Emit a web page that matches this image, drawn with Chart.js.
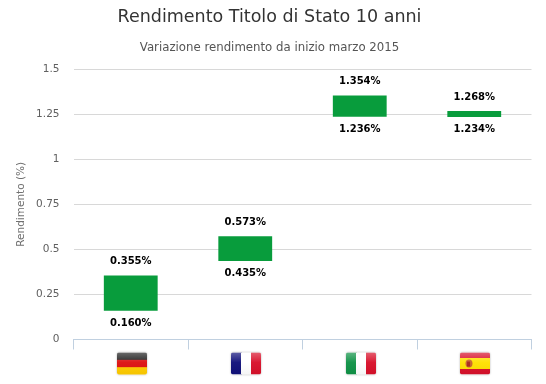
<!DOCTYPE html>
<html><head><meta charset="utf-8">
<style>html,body{margin:0;padding:0;background:#fff}canvas{display:block}</style>
<script src="https://cdn.jsdelivr.net/npm/chart.js@4"></script>
</head><body><canvas id="c" width="546" height="384"></canvas>
<script>
const categories = ["Germania", "Francia", "Italia", "Spagna"];
const lowValues = [0.160, 0.435, 1.236, 1.234];
const highValues = [0.355, 0.573, 1.354, 1.268];
const titleText = "Rendimento Titolo di Stato 10 anni";
const subtitleText = "Variazione rendimento da inizio marzo 2015";
const axisTitle = "Rendimento (%)";
const FONT = '"DejaVu Sans", sans-serif';

const flagStripes = {
  Germania: {dir: "h", colors: ["#222222", "#dd1111", "#ffcc00"]},
  Francia: {dir: "v", colors: ["#10107a", "#ffffff", "#d8102a"]},
  Italia: {dir: "v", colors: ["#0f9246", "#ffffff", "#d8102a"]},
  Spagna: {dir: "s", colors: ["#d8102a", "#ffe000", "#d8102a"]}
};

const labelsPlugin = {
  id: "rangeLabels",
  afterDatasetsDraw(chart) {
    const ctx = chart.ctx, y = chart.scales.y, x = chart.scales.x;
    ctx.save();
    ctx.font = "bold 10px " + FONT;
    ctx.fillStyle = "#000";
    ctx.textAlign = "center";
    ctx.textBaseline = "middle";
    categories.forEach((c, i) => {
      const px = x.getPixelForTick(i);
      ctx.fillText(highValues[i].toFixed(3) + "%", px, y.getPixelForValue(highValues[i]) - 14);
      ctx.fillText(lowValues[i].toFixed(3) + "%", px, y.getPixelForValue(lowValues[i]) + 12.5);
    });
    ctx.restore();
  }
};

const flagsPlugin = {
  id: "flags",
  afterDraw(chart) {
    const ctx = chart.ctx, x = chart.scales.x, y = chart.scales.y;
    const w = 30, h = 22, top = y.bottom + 13;
    categories.forEach((c, i) => {
      const left = Math.round(x.getPixelForTick(i) - w / 2 + 0.8);
      const f = flagStripes[c];
      ctx.save();
      ctx.shadowColor = "rgba(0,0,0,0.35)";
      ctx.shadowBlur = 2;
      ctx.fillStyle = "#fff";
      ctx.beginPath();
      ctx.roundRect(left, top, w, h, 2);
      ctx.fill();
      ctx.restore();
      ctx.save();
      ctx.beginPath();
      ctx.roundRect(left, top, w, h, 2);
      ctx.clip();
      if (f.dir === "h") {
        f.colors.forEach((col, k) => { ctx.fillStyle = col; ctx.fillRect(left, top + k * h / 3, w, h / 3 + 1); });
      } else if (f.dir === "v") {
        f.colors.forEach((col, k) => { ctx.fillStyle = col; ctx.fillRect(left + k * w / 3, top, w / 3 + 1, h); });
      } else {
        ctx.fillStyle = f.colors[0]; ctx.fillRect(left, top, w, h);
        ctx.fillStyle = f.colors[1]; ctx.fillRect(left, top + 5.5, w, 11);
        ctx.fillStyle = "#c9622a"; ctx.beginPath(); ctx.ellipse(left + 9, top + 11, 3.5, 4, 0, 0, 7); ctx.fill();
        ctx.fillStyle = "#a8281c"; ctx.fillRect(left + 7, top + 9, 3, 5);
      }
      const g = ctx.createLinearGradient(0, top, 0, top + h);
      g.addColorStop(0, "rgba(255,255,255,0.32)");
      g.addColorStop(0.45, "rgba(255,255,255,0.04)");
      g.addColorStop(1, "rgba(0,0,0,0.04)");
      ctx.fillStyle = g; ctx.fillRect(left, top, w, h);
      ctx.restore();
    });
  }
};

new Chart(document.getElementById("c"), {
  type: "bar",
  data: {
    labels: categories,
    datasets: [{
      data: lowValues.map((v, i) => [v, highValues[i]]),
      backgroundColor: "#089c3c",
      borderWidth: 0,
      categoryPercentage: 1,
      barPercentage: 0.47
    }]
  },
  plugins: [labelsPlugin, flagsPlugin],
  options: {
    responsive: false,
    animation: false,
    layout: {padding: {left: 7.5, right: 14.5, top: 7, bottom: 0}},
    plugins: {
      legend: {display: false},
      tooltip: {enabled: false},
      title: {display: true, text: titleText, color: "#333", font: {family: FONT, size: 17.5, weight: "normal"}, padding: {top: 0, bottom: 13}},
      subtitle: {display: true, text: subtitleText, color: "#555", font: {family: FONT, size: 11.75, weight: "normal"}, padding: {top: 0, bottom: 14}}
    },
    scales: {
      x: {
        offset: true,
        afterFit(s) { s.height = 44.5; },
        ticks: {display: false},
        border: {color: "#c0d0e0", width: 1},
        grid: {drawOnChartArea: false, offset: true, tickLength: 10, color: "#c0d0e0", drawTicks: true}
      },
      y: {
        min: 0, max: 1.5,
        afterFit(s) { s.width = 66; },
        ticks: {stepSize: 0.25, color: "#606060", padding: 14, font: {family: FONT, size: 10.5}, callback: v => String(v)},
        border: {display: false},
        grid: {color: "#d8d8d8", drawTicks: false},
        title: {display: true, text: axisTitle, color: "#707070", font: {family: FONT, size: 10.5, weight: "normal"}, padding: {top: 7, bottom: 0}}
      }
    }
  }
});
</script></body></html>
